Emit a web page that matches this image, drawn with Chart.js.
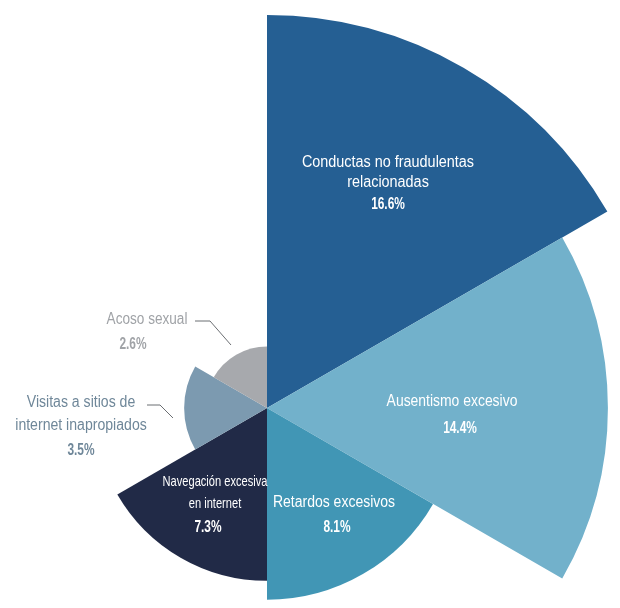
<!DOCTYPE html>
<html>
<head>
<meta charset="utf-8">
<script src="https://cdn.jsdelivr.net/npm/chart.js@4.4.0/dist/chart.umd.min.js"></script>
<style>
  html, body { margin: 0; padding: 0; background: #ffffff; overflow: hidden; }
  body { width: 620px; height: 608px; position: relative; }
  #wrap { position: absolute; left: -126px; top: 15px; width: 786px; height: 786px; }
</style>
</head>
<body>
<div id="wrap"><canvas id="chart"></canvas></div>
<script>
// Data, clockwise from 12 o'clock
const categories = [
    'Conductas no fraudulentas relacionadas',
    'Ausentismo excesivo',
    'Retardos excesivos',
    'Navegación excesiva en internet',
    'Visitas a sitios de internet inapropiados',
    'Acoso sexual'
];
const percentages = [16.6, 14.4, 8.1, 7.3, 3.5, 2.6];
const sliceColors = ['#255f93', '#72b1cb', '#4196b5', '#212a47', '#7c9ab0', '#a7a9ad'];

// How each name is wrapped on the picture
const nameLines = [
    ['Conductas no fraudulentas', 'relacionadas'],
    ['Ausentismo excesivo'],
    ['Retardos excesivos'],
    ['Navegación excesiva', 'en internet'],
    ['Visitas a sitios de', 'internet inapropiados'],
    ['Acoso sexual']
];

// Label placement, offsets from the chart centre (px); sx squeezes the text
const labelLayout = [
    { dx: 121, dy: -245, gap: 20, color: '#ffffff', sx: 0.9, size: 16 },
    { dx: 185, dy: -6, gap: 25, color: '#ffffff', pctDx: 8, sx: 0.87, size: 16 },
    { dx: 67, dy: 95, gap: 23, color: '#ffffff', pctDx: 3, sx: 0.875, size: 16 },
    { dx: -52, dy: 74, gap: 22, color: '#ffffff', pctDx: -7, sx: 0.74, size: 15 },
    { dx: -186, dy: -5, gap: 23, color: '#6f8799', sx: 0.88, size: 16,
      leader: [[-120, -3], [-107, -3], [-94, 10]] },
    { dx: -120, dy: -88, gap: 23, color: '#a0a3a7', pctDx: -14, sx: 0.85, size: 16,
      leader: [[-72, -87], [-57, -87], [-36, -63]] }
];

const fontFamily = "'Liberation Sans', Arial, sans-serif";

function squeezedText(ctx, text, x, y, sx) {
    ctx.save();
    ctx.translate(x, y);
    ctx.scale(sx, 1);
    ctx.fillText(text, 0, 0);
    ctx.restore();
}

const sliceLabels = {
    id: 'sliceLabels',
    afterDatasetsDraw(chart) {
        const ctx = chart.ctx;
        const r = chart.scales.r;
        const cx = r.xCenter, cy = r.yCenter;
        ctx.save();
        ctx.textAlign = 'center';
        ctx.textBaseline = 'middle';
        labelLayout.forEach((lay, i) => {
            const x = cx + lay.dx;
            let y = cy + lay.dy;
            ctx.fillStyle = lay.color;
            ctx.font = lay.size + 'px ' + fontFamily;
            nameLines[i].forEach(line => {
                squeezedText(ctx, line, x, y, lay.sx);
                y += lay.gap;
            });
            // percentages are set in a narrow bold face
            ctx.font = 'bold 17px ' + fontFamily;
            squeezedText(ctx, percentages[i].toFixed(1) + '%', x + (lay.pctDx || 0), y + 1, 0.7);
            if (lay.leader) {
                ctx.strokeStyle = '#6b6e72';
                ctx.lineWidth = 1;
                ctx.beginPath();
                lay.leader.forEach((p, k) => {
                    if (k === 0) ctx.moveTo(cx + p[0], cy + p[1]);
                    else ctx.lineTo(cx + p[0], cy + p[1]);
                });
                ctx.stroke();
            }
        });
        ctx.restore();
    }
};

new Chart(document.getElementById('chart'), {
    type: 'polarArea',
    data: {
        labels: categories,
        datasets: [{
            data: percentages,
            backgroundColor: sliceColors,
            borderWidth: 0
        }]
    },
    options: {
        responsive: true,
        maintainAspectRatio: false,
        animation: false,
        layout: { padding: 0 },
        plugins: {
            legend: { display: false },
            tooltip: { enabled: false }
        },
        scales: {
            r: {
                min: 0,
                max: 16.6,
                startAngle: 0,
                ticks: { display: false },
                grid: { display: false },
                angleLines: { display: false },
                pointLabels: { display: false }
            }
        }
    },
    plugins: [sliceLabels]
});
</script>
</body>
</html>
